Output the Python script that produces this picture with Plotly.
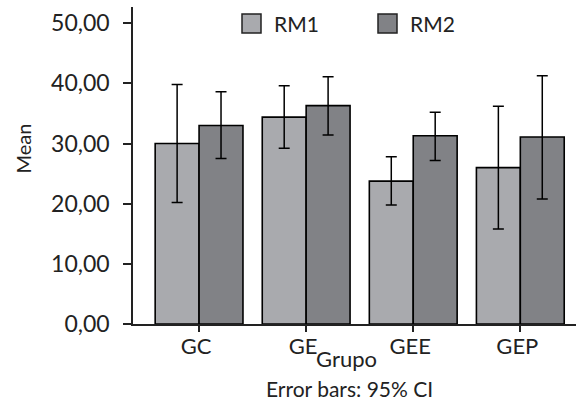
import plotly.graph_objects as go

categories = ["GC", "GE", "GEE", "GEP"]
series_names = ["RM1", "RM2"]
rm1_mean = [30.0, 34.4, 23.75, 26.0]
rm1_upper = [39.8, 39.6, 27.8, 36.2]
rm1_lower = [20.2, 29.2, 19.8, 15.8]
rm2_mean = [33.0, 36.3, 31.3, 31.1]
rm2_upper = [38.6, 41.1, 35.2, 41.25]
rm2_lower = [27.5, 31.4, 27.2, 20.8]
y_ticks = [0, 10, 20, 30, 40, 50]

colors = ["#a9aaae", "#818286"]
FONT = "Lato"
W, H = 576, 400
L, R, T, B = 133, 0, 7, 76

def px(x):
    return (x - L) / (W - L - R)

def py(y):
    return (H - B - y) / (H - T - B)

fig = go.Figure()
for name, mean, up, lo, col in [
    (series_names[0], rm1_mean, rm1_upper, rm1_lower, colors[0]),
    (series_names[1], rm2_mean, rm2_upper, rm2_lower, colors[1]),
]:
    fig.add_trace(go.Bar(
        x=categories, y=mean, name=name,
        marker=dict(color=col, line=dict(color="black", width=1.6)),
        error_y=dict(type="data", symmetric=False,
                     array=[u - m for u, m in zip(up, mean)],
                     arrayminus=[m - l for m, l in zip(mean, lo)],
                     color="black", thickness=1.5, width=5.5),
        showlegend=False,
        hoverinfo="skip",
    ))

fig.update_layout(
    width=W, height=H,
    margin=dict(l=L, r=R, t=T, b=B),
    paper_bgcolor="white", plot_bgcolor="white",
    barmode="group", bargap=0.18, bargroupgap=0,
    separators=",.",
    font=dict(family=FONT, size=22, color="#222"),
    xaxis=dict(range=[-0.617, 3.52], showline=True, linecolor="#222", linewidth=1.5,
               ticks="outside", ticklen=6, tickcolor="#222", tickwidth=1.5,
               showgrid=False, zeroline=False, tickfont=dict(size=22),
               ticklabelstandoff=-4, ticklabelshift=-3),
    yaxis=dict(range=[0, 52.7], showline=True, linecolor="#222", linewidth=1.5,
               ticks="outside", ticklen=8, tickcolor="#222", tickwidth=1.5,
               tickvals=y_ticks, tickformat=".2f",
               showgrid=False, zeroline=False, tickfont=dict(size=23),
               ticklabelstandoff=9),
)

# legend
for i, (name, col) in enumerate(zip(series_names, colors)):
    x0 = [242, 378][i]
    fig.add_shape(type="rect", xref="paper", yref="paper",
                  x0=px(x0), x1=px(x0 + 19), y0=py(33), y1=py(14),
                  fillcolor=col, line=dict(color="#222", width=1.5))
    fig.add_annotation(xref="paper", yref="paper", x=px(x0 + 30), y=py(23.5),
                       text=name, showarrow=False, xanchor="left", yanchor="middle",
                       font=dict(size=21))

fig.add_annotation(xref="paper", yref="paper", x=px(22), y=py(148.5),
                   text="Mean", textangle=-90, showarrow=False,
                   xanchor="center", yanchor="middle", font=dict(size=20))
fig.add_annotation(xref="paper", yref="paper", x=px(346), y=py(358),
                   text="Grupo", showarrow=False,
                   xanchor="center", yanchor="middle", font=dict(size=22))
fig.add_annotation(xref="paper", yref="paper", x=px(349.5), y=py(388),
                   text="Error bars: 95% CI", showarrow=False,
                   xanchor="center", yanchor="middle", font=dict(size=21))

fig.write_html("out.html", config={"displayModeBar": False},
               post_script="document.body.style.margin='0';document.body.style.overflow='hidden';")
